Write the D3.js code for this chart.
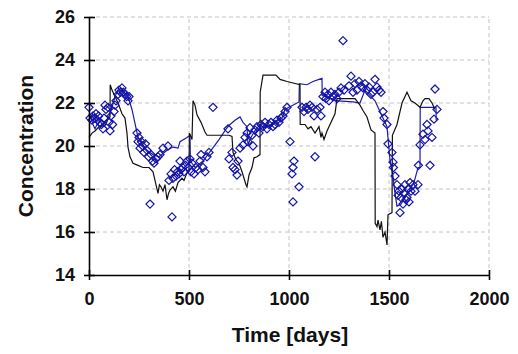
<!DOCTYPE html>
<html>
<head>
<meta charset="utf-8">
<script src="https://cdn.jsdelivr.net/npm/d3@7"></script>
<style>
  body { margin: 0; background: #fff; }
  svg text { font-family: "Liberation Sans", Arial, sans-serif; font-weight: bold; }
</style>
</head>
<body>
<div id="chart"></div>
<script>
const xTicks = [0, 500, 1000, 1500, 2000];
const yTicks = [14, 16, 18, 20, 22, 24, 26];

// simulated series 1 (black)
const blackSeries = [
  [0,20.4],[15,20.6],[30,20.7],[50,20.9],[70,21.0],[90,21.2],[105,21.35],[106,22.85],[115,22.6],
  [130,22.3],[145,22.0],[165,21.5],[180,21.3],[190,20.6],[195,19.95],[205,19.5],[220,19.2],
  [245,19.1],[270,19.0],[300,19.0],[320,18.8],[330,18.4],[345,17.8],[352,18.2],[360,18.1],
  [370,17.9],[380,18.2],[390,17.5],[398,17.8],[405,17.95],[420,18.1],[432,17.9],[445,18.3],
  [465,18.5],[475,18.4],[490,18.75],[500,18.8],[502,20.6],[515,20.3],[520,22.1],[530,21.9],
  [540,21.45],[560,21.1],[580,20.65],[590,20.5],[700,20.5],[715,20.45],[720,19.7],[735,19.35],
  [750,19.2],[765,18.8],[785,18.2],[790,18.1],[800,18.65],[815,19.0],[825,19.45],[840,19.5],
  [855,19.6],[856,22.5],[870,23.3],[935,23.3],[955,23.1],[990,23.0],[1055,22.85],[1056,21.0],
  [1080,21.0],[1095,20.8],[1110,20.9],[1130,20.6],[1150,20.9],[1160,20.4],[1165,20.6],
  [1175,20.3],[1190,20.7],[1230,21.5],[1240,22.2],[1330,22.2],[1355,21.9],[1370,21.65],
  [1390,21.35],[1410,20.75],[1430,20.6],[1431,16.4],[1440,16.25],[1445,16.55],[1455,16.1],
  [1462,16.5],[1470,15.75],[1480,16.0],[1490,15.4],[1495,16.8],[1515,16.9],[1517,20.5],
  [1540,21.0],[1565,22.0],[1580,22.3],[1590,22.5],[1600,22.3],[1610,22.1],[1630,22.0],
  [1655,21.8],[1670,22.1],[1680,22.2],[1700,22.2],[1715,22.0],[1730,21.7]
];

// simulated series 2 (blue)
const blueSeries = [
  [0,21.5],[10,21.3],[20,21.0],[30,20.8],[40,21.0],[55,21.2],[70,20.9],[85,21.0],[100,21.4],
  [115,21.8],[130,22.3],[145,22.6],[165,22.6],[195,22.3],[215,21.7],[230,21.05],[245,20.4],
  [265,20.1],[290,19.8],[320,19.6],[350,19.5],[390,19.8],[420,19.95],[445,19.9],[455,20.2],
  [490,20.4],[505,20.5],[507,19.3],[530,19.0],[570,19.3],[610,19.8],[650,20.3],[690,20.85],
  [705,21.0],[730,21.2],[755,21.35],[770,21.1],[790,20.9],[795,20.05],[810,20.4],[825,20.65],
  [855,21.0],[875,20.85],[915,21.0],[965,21.3],[980,21.7],[1050,22.05],[1052,22.9],
  [1090,22.85],[1120,23.0],[1150,23.1],[1165,23.15],[1166,22.35],[1245,22.1],[1320,22.05],
  [1355,22.0],[1380,22.6],[1400,22.4],[1430,22.1],[1450,21.7],[1490,20.9],[1505,19.35],
  [1520,18.6],[1530,17.8],[1540,17.2],[1560,17.3],[1580,17.6],[1600,17.9],[1625,18.3],
  [1645,19.0],[1655,19.0],[1656,21.8],[1735,21.8],[1736,21.2]
];

// observations (diamonds)
const observed = [
  [0,21.8],[5,21.3],[15,21.2],[20,21.4],[28,21.3],[35,21.5],[42,21.2],[48,21.4],[55,21.1],
  [62,21.0],[70,20.8],[75,21.3],[80,21.9],[85,21.7],[95,21.8],[100,21.1],[105,20.7],[110,21.4],
  [118,21.0],[125,21.6],[130,21.9],[135,22.1],[145,22.4],[150,22.6],[158,22.5],[165,22.7],
  [172,22.5],[180,22.4],[188,22.3],[195,22.1],[200,22.3],
  [240,20.6],[245,20.2],[250,20.4],[255,19.9],[262,20.2],[268,20.0],[275,19.7],[282,20.1],
  [290,19.8],[298,19.5],[305,17.3],[310,19.6],[318,19.3],[325,19.2],[335,19.4],[345,19.5],
  [355,19.6],[370,19.9],[395,20.0],[415,16.7],
  [400,18.4],[410,18.7],[420,18.5],[428,18.9],[435,18.6],[442,18.8],[450,18.7],[455,19.3],
  [460,18.9],[468,19.0],[475,18.8],[482,19.1],[490,19.3],[497,19.0],[505,19.4],[510,18.8],
  [515,19.2],[525,18.7],[535,19.0],[545,18.9],[555,19.3],[560,19.6],[570,19.0],[580,18.8],
  [590,19.5],[600,19.7],[620,21.8],
  [695,20.8],[700,19.4],[715,19.7],[720,19.0],[730,18.9],[740,18.65],[745,19.3],[755,19.9],
  [770,20.05],[780,20.4],[790,20.6],[795,20.2],[805,20.85],[815,20.5],[820,20.0],[830,20.75],
  [840,20.9],[850,20.6],[860,21.0],[870,20.9],[880,21.1],[890,20.8],[900,21.0],[910,21.1],
  [920,20.9],[930,21.0],[940,21.2],[950,21.1],[960,21.3],[970,21.4],[980,21.6],[990,21.8],
  [1005,20.2],[1025,19.3],[1020,19.0],[1015,18.7],[1050,18.1],[1020,17.4],[1130,19.5],
  [1065,21.8],[1075,21.6],[1085,21.8],[1095,21.7],[1105,21.9],[1115,21.8],[1125,21.4],
  [1140,21.7],[1155,21.8],[1160,21.4],
  [1170,22.3],[1180,22.5],[1185,22.2],[1195,22.4],[1200,22.1],[1210,22.5],[1220,22.3],
  [1230,22.4],[1240,22.2],[1250,22.5],[1260,22.7],[1270,24.9],[1275,22.6],
  [1300,22.8],[1310,23.25],[1320,22.5],[1330,22.9],[1340,22.6],[1350,23.0],[1360,22.8],
  [1370,22.7],[1380,22.9],[1390,22.6],[1400,22.75],[1410,22.4],[1420,22.5],[1430,23.1],
  [1440,22.75],[1450,22.6],[1460,22.5],
  [1470,21.6],[1475,21.3],[1490,21.0],[1495,20.1],[1515,19.7],[1520,19.25],[1522,19.0],[1530,18.6],
  [1540,18.2],[1545,17.7],[1550,17.9],[1555,16.9],[1560,17.6],[1565,18.0],[1570,17.3],
  [1575,17.8],[1580,18.2],[1585,17.5],[1590,17.6],[1595,18.0],[1600,17.4],[1605,18.3],
  [1610,17.9],[1620,18.2],[1630,17.9],
  [1645,18.2],[1647,19.1],[1655,20.05],[1670,20.55],[1680,20.3],[1690,21.0],[1695,20.7],
  [1705,19.1],[1715,20.4],[1725,21.25],[1730,22.65],[1740,21.7]
];

const width = 518, height = 354;
const margin = { left: 89, right: 29, top: 17, bottom: 79 };

const svg = d3.select("#chart").append("svg")
  .attr("width", width).attr("height", height);

const x = d3.scaleLinear().domain([0, 2000]).range([margin.left, width - margin.right]);
const y = d3.scaleLinear().domain([14, 26]).range([height - margin.bottom, margin.top]);

// dashed grid
svg.append("g").selectAll("line.vg")
  .data(xTicks.slice(1)).join("line")
  .attr("x1", d => x(d)).attr("x2", d => x(d))
  .attr("y1", y(14)).attr("y2", y(26))
  .attr("stroke", "#c4c4c4").attr("stroke-dasharray", "4,3");
svg.append("g").selectAll("line.hg")
  .data(yTicks.slice(1)).join("line")
  .attr("x1", x(0)).attr("x2", x(2000))
  .attr("y1", d => y(d)).attr("y2", d => y(d))
  .attr("stroke", "#c4c4c4").attr("stroke-dasharray", "4,3");

const line = d3.line().x(d => x(d[0])).y(d => y(d[1]));

svg.append("path").datum(blueSeries)
  .attr("d", line).attr("fill", "none")
  .attr("stroke", "#1c1cb0").attr("stroke-width", 1.2);

svg.append("path").datum(blackSeries)
  .attr("d", line).attr("fill", "none")
  .attr("stroke", "#111").attr("stroke-width", 1.2);

const diamond = d3.symbol().type(d3.symbolDiamond2).size(42);
svg.append("g").selectAll("path")
  .data(observed).join("path")
  .attr("d", diamond)
  .attr("transform", d => `translate(${x(d[0])},${y(d[1])})`)
  .attr("fill", "none").attr("stroke", "#1414a8").attr("stroke-width", 1.2);

// axes
const xAxis = d3.axisBottom(x).tickValues(xTicks).tickFormat(d3.format("d"))
  .tickSizeInner(5).tickSizeOuter(0).tickPadding(12);
const yAxis = d3.axisLeft(y).tickValues(yTicks).tickFormat(d3.format("d"))
  .tickSizeInner(5).tickSizeOuter(0).tickPadding(9);

const gx = svg.append("g").attr("transform", `translate(0,${y(14)})`).call(xAxis);
const gy = svg.append("g").attr("transform", `translate(${x(0)},0)`).call(yAxis);

[gx, gy].forEach(g => {
  g.select(".domain").attr("stroke", "#000").attr("stroke-width", 1.6);
  g.selectAll(".tick line").attr("stroke", "#000").attr("stroke-width", 1.6);
  g.selectAll(".tick text").attr("fill", "#111").style("font-size", "18px");
});
// ticks cross the axis
gx.selectAll(".tick line").attr("y1", -5);
gy.selectAll(".tick line").attr("x1", 6);

svg.append("text")
  .attr("x", 290).attr("y", 342)
  .attr("text-anchor", "middle")
  .style("font-size", "21px")
  .attr("fill", "#111")
  .text("Time [days]");

svg.append("text")
  .attr("transform", `translate(33,${(y(14) + y(26)) / 2}) rotate(-90)`)
  .attr("text-anchor", "middle")
  .style("font-size", "21px")
  .attr("fill", "#111")
  .text("Concentration");
</script>
</body>
</html>
